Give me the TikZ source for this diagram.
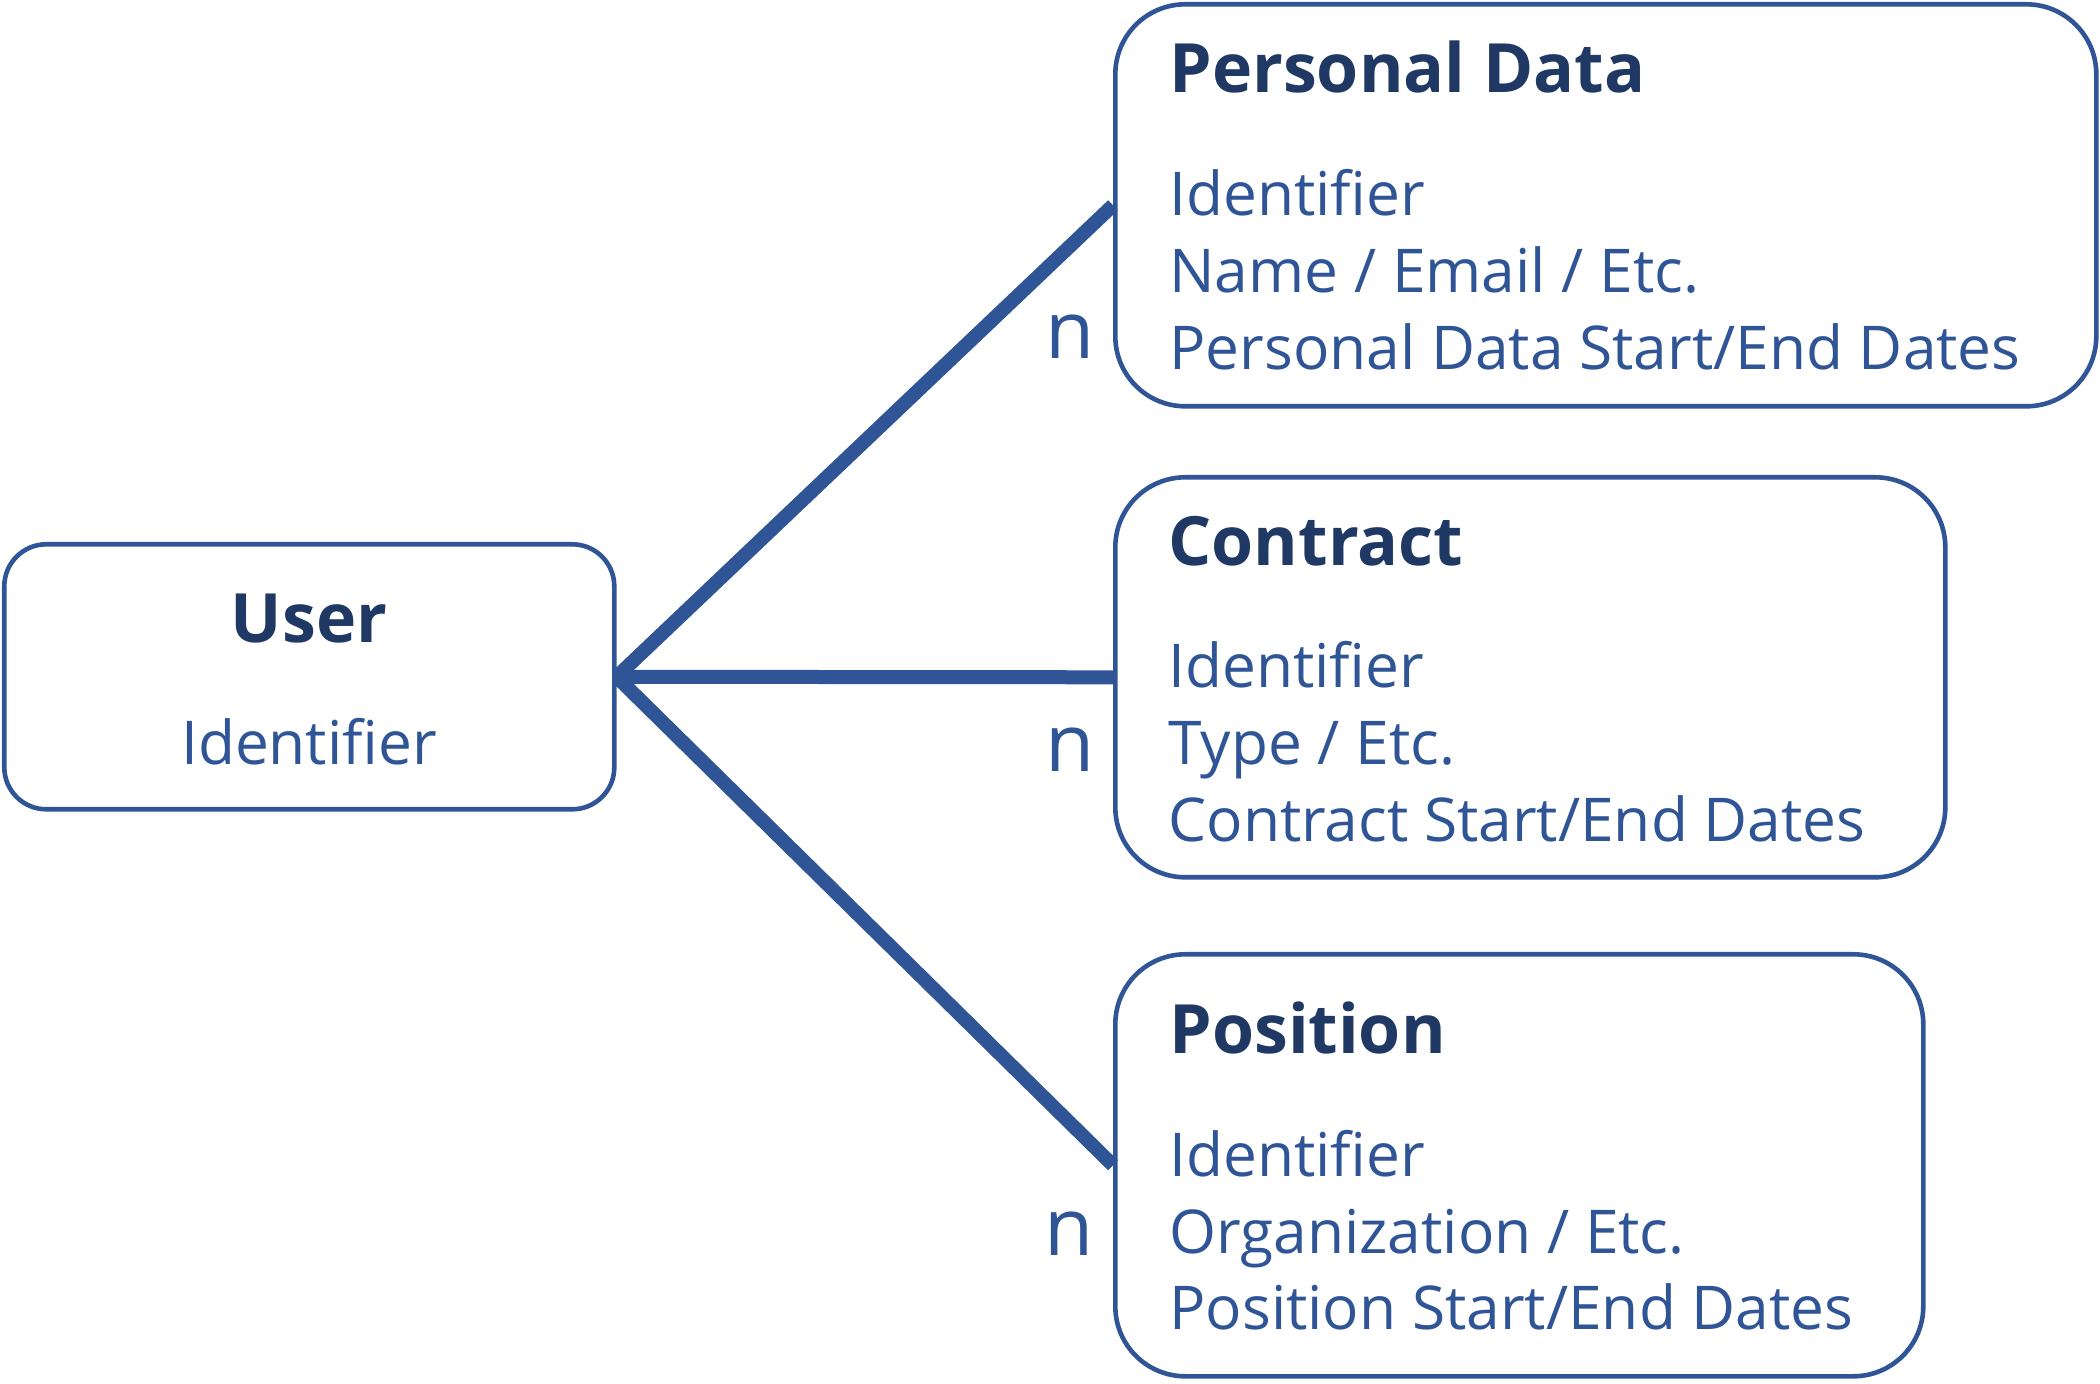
\documentclass[tikz,border=0pt]{standalone}
\usepackage{fontspec}
\setmainfont{Open Sans}
\definecolor{lineblue}{HTML}{2F5597}
\definecolor{titleblue}{HTML}{203864}
\begin{document}
\begin{tikzpicture}[x=0.5pt,y=-0.5pt,
  box/.style={draw=lineblue,line width=2.3pt,rounded corners=35pt,fill=white,anchor=north west,inner sep=0},
  ttl/.style={font=\fontsize{34}{40}\selectfont\bfseries,text=titleblue,inner sep=0,anchor=base west},
  body/.style={font=\fontsize{30.2}{36}\selectfont,text=lineblue,inner sep=0,anchor=base west},
  card/.style={font=\fontsize{40}{44}\selectfont,text=lineblue,inner sep=0,anchor=base},
  conn/.style={draw=lineblue,line width=7pt}]
\useasboundingbox (0,0) rectangle (2100,1384);
% boxes
\node[box,rounded corners=21pt,minimum width=305pt,minimum height=132.5pt] (user) at (2,542) {};
\node[box,minimum width=490.5pt,minimum height=201pt] (pd) at (1113,2) {};
\node[box,minimum width=415pt,minimum height=200pt] (ct) at (1113,475) {};
\node[box,minimum width=404pt,minimum height=211pt] (ps) at (1113,952) {};
% connectors
\draw[conn] (user.east) -- (pd.west);
\draw[conn] (user.east) -- (ct.west);
\draw[conn] (user.east) -- (ps.west);
% user text
\node[ttl,anchor=base] (usert) at (309,643) {User};
\node[body,anchor=base] (useri) at (309,765) {Identifier};
% personal data
\node[ttl] (pdt) at (1169,93) {Personal Data};
\node[body] (pd1) at (1169,216) {Identifier};
\node[body] (pd2) at (1169,293) {Name / Email / Etc.};
\node[body] (pd3) at (1169,370) {Personal Data Start/End Dates};
% contract
\node[ttl] (ctt) at (1168,566) {Contract};
\node[body] (ct1) at (1168,688) {Identifier};
\node[body] (ct2) at (1168,765) {Type / Etc.};
\node[body] (ct3) at (1168,842) {Contract Start/End Dates};
% position
\node[ttl] (pst) at (1169,1053) {Position};
\node[body] (ps1) at (1169,1176) {Identifier};
\node[body] (ps2) at (1169,1253) {Organization / Etc.};
\node[body] (ps3) at (1169,1329) {Position Start/End Dates};
% cardinalities
\node[card] (n1) at (1070,359) {n};
\node[card] (n2) at (1070,772) {n};
\node[card] (n3) at (1069,1255) {n};
\end{tikzpicture}
\end{document}
